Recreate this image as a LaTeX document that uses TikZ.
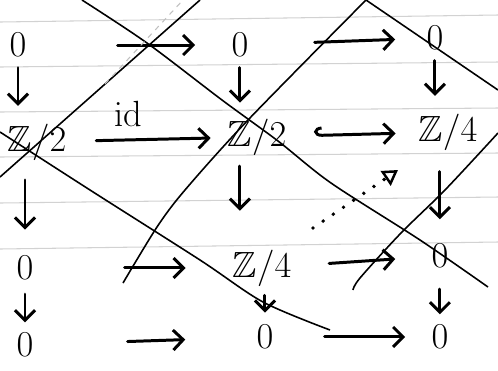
\documentclass[tikz,border=0pt]{standalone}
\usepackage{amssymb}
\usepackage{xcolor}
\usepackage{tikz}
\usetikzlibrary{arrows.meta, positioning}

\begin{document}
\begin{tikzpicture}[
    x=0.02cm, y=-0.02cm, on grid,
    obj/.style={inner sep=4pt, font=\huge},
    arrow/.style={line width=1.7pt, line cap=round,
      -{Straight Barb[length=2mm, width=4mm]}},
    hookarrow/.style={arrow, {Hooks[right, length=1.5mm, width=3.5mm]}-{Straight Barb[length=2mm, width=4mm]}},
    dots/.style={line width=2.2pt, line cap=round, dash pattern=on 0pt off 7pt,
      -{Triangle[open, length=3mm, width=3.5mm, line width=1.4pt]}},
    cut/.style={line width=0.9pt},
    ruled/.style={gray!35, line width=0.6pt}
]
\useasboundingbox (0,0) rectangle (498,370);
\fill[white] (0,0) rectangle (498,370);

% ruled paper
\foreach \l/\r in {22/15, 67/62, 112/108, 157/153, 203/197, 249/242}
  \draw[ruled] (0,\l) -- (498,\r);

% the objects
\node[obj] (a1) at (18,45) {$0$};
\node[obj, right=4.44cm of a1]                 (a2) {$0$};
\node[obj, above right=0.14cm and 3.9cm of a2] (a3) {$0$};
\node[obj, below right=1.94cm and 0.38cm of a1] (b1) {$\mathbb{Z}/2$};
\node[obj, above right=0.1cm and 4.4cm of b1]  (b2) {$\mathbb{Z}/2$};
\node[obj, above right=0.1cm and 3.82cm of b2] (b3) {$\mathbb{Z}/4$};
\node[obj, below left=2.52cm and 0.24cm of b1] (c1) {$0$};
\node[obj, right=4.74cm of c1]                 (c2) {$\mathbb{Z}/4$};
\node[obj, above right=0.24cm and 3.56cm of c2] (c3) {$0$};
\node[obj, below=1.54cm of c1]                 (d1) {$0$};
\node[obj, above right=0.16cm and 4.8cm of d1] (d2) {$0$};
\node[obj, right=3.5cm of d2]                  (d3) {$0$};

% rows
\draw[arrow, shorten <=1.68cm, shorten >=0.58cm] (a1) -- (a2);
\draw[arrow, shorten <=1.18cm, shorten >=0.48cm] (a2) -- (a3);
\draw[arrow, shorten <=0.45cm, shorten >=0.19cm] (b1) -- (b2)
  node[pos=0.37, anchor=south, inner sep=7pt, font=\huge] (id) {$\mathrm{id}$};
\draw[hookarrow, shorten <=0.41cm, shorten >=0.31cm] (b2) -- (b3);
\draw[arrow, shorten <=1.68cm, shorten >=0.79cm] (c1) -- (c2);
\draw[arrow, shorten <=0.61cm, shorten >=0.58cm] (c2) -- (c3);
\draw[arrow, shorten <=1.74cm, shorten >=1.28cm] (d1) -- (d2);
\draw[arrow, shorten <=0.88cm, shorten >=0.38cm] (d2) -- (d3);

% columns
\draw[arrow, shorten <=2pt, shorten >=6pt]  (a1) -- (a1 |- b1.north);
\draw[arrow, shorten <=7pt, shorten >=11pt] (c1 |- b1.south) -- (c1);
\draw[arrow, shorten <=4pt, shorten >=2pt]  (c1) -- (c1 |- d1.north);
\draw[arrow, shorten <=2pt, shorten >=5pt]  (a2) -- (a2 |- b2.north);
\draw[arrow, shorten <=2pt, shorten >=18pt] (a2 |- b2.south) -- (a2 |- c2.north);
\draw[arrow, shorten <=1pt, shorten >=3pt]  (d2 |- c2.south) -- (d2);
\draw[arrow, shorten <=2pt, shorten >=6pt]  (a3) -- (a3 |- b3.north);
\draw[arrow, shorten <=8pt, shorten >=10pt] (c3 |- b3.south) -- (c3);
\draw[arrow, shorten <=8pt, shorten >=2pt]  (c3) -- (c3 |- d3.north);

% connecting map
\coordinate (ds) at (313,228);
\coordinate (de) at (398,170);
\draw[dots] (ds) -- (de);

% the long strokes across the page
\draw[cut] plot[smooth] coordinates {(82,0) (147,43) (222,100) (278,141) (331,183) (420,240) (488,287)};
\draw[cut] plot[smooth] coordinates {(0,132) (90,190) (200,260) (263,302) (330,330)};
\draw[cut] (0,177) -- (200,0);
\draw[gray!50, dashed, line width=0.6pt] (105,84) -- (183,0);
\draw[cut] plot[smooth] coordinates {(366,0) (248,120) (185,190) (157,227) (123,283)};
\draw[cut] (366,0) -- (498,90);
\draw[cut] plot[smooth] coordinates {(498,133) (445,190) (401,233) (360,278) (353,290)};
\end{tikzpicture}
\end{document}
